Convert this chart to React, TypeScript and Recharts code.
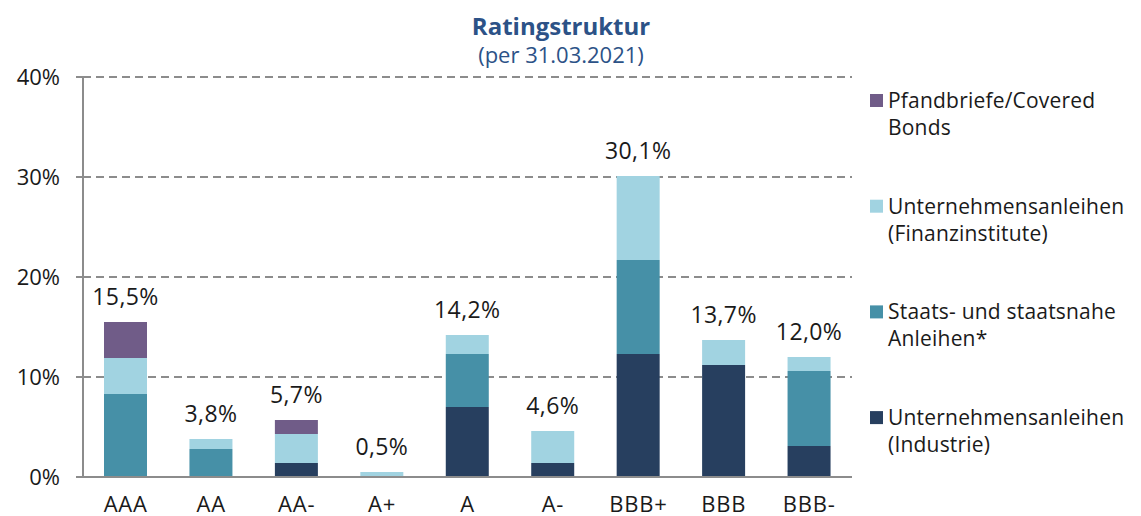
import { BarChart, Bar, XAxis, YAxis, CartesianGrid, LabelList } from "recharts";

const RATINGS = ["AAA", "AA", "AA-", "A+", "A", "A-", "BBB+", "BBB", "BBB-"];
// values in percent
const INDUSTRIE = [0, 0, 1.4, 0, 7.0, 1.4, 12.3, 11.2, 3.1];
const STAATS = [8.3, 2.8, 0, 0, 5.3, 0, 9.4, 0, 7.5];
const FINANZ = [3.6, 1.0, 2.9, 0.5, 1.9, 3.2, 8.4, 2.5, 1.4];
const PFAND = [3.6, 0, 1.4, 0, 0, 0, 0, 0, 0];
const TOTAL_LABELS = ["15,5%", "3,8%", "5,7%", "0,5%", "14,2%", "4,6%", "30,1%", "13,7%", "12,0%"];
const Y_TICKS = [0, 10, 20, 30, 40];
const EDGE_TICKS = [0, 1, 2, 3, 4, 5, 6, 7, 8, 9];

const SERIES = [
  { key: "industrie", values: INDUSTRIE, name: ["Unternehmensanleihen", "(Industrie)"], color: "#273f5f" },
  { key: "staats", values: STAATS, name: ["Staats- und staatsnahe", "Anleihen*"], color: "#4690a7" },
  { key: "finanz", values: FINANZ, name: ["Unternehmensanleihen", "(Finanzinstitute)"], color: "#a1d3e1" },
  { key: "pfand", values: PFAND, name: ["Pfandbriefe/Covered", "Bonds"], color: "#705c88" },
];

const data = RATINGS.map((r, i) => ({
  rating: r,
  industrie: INDUSTRIE[i],
  staats: STAATS[i],
  finanz: FINANZ[i],
  pfand: PFAND[i],
}));

// which series sits on top of each stack
const topSeries = RATINGS.map((_, i) => {
  let top = 0;
  SERIES.forEach((s, k) => {
    if (s.values[i] > 0) top = k;
  });
  return top;
});

const FONT = "'Open Sans', sans-serif";
const GRAY = "#8c8c8c";
const TEXT = "#1a1a1a";
const TITLE = "#2c5287";

const makeTotalLabel = (seriesIdx: number) => (props: any) => {
  const { x, y, width, value } = props;
  const idx = RATINGS.indexOf(value);
  if (idx < 0 || topSeries[idx] !== seriesIdx) return null;
  const label = TOTAL_LABELS[idx];
  const cx = x + width / 2;
  const w = label.length * 13 + 2;
  return (
    <g>
      <rect x={cx - w / 2} y={y - 38} width={w} height={27} fill="#fff" />
      <text
        x={cx}
        y={y - 17}
        textAnchor="middle"
        fontSize={23}
        letterSpacing={0.4}
        fontFamily={FONT}
        fill={TEXT}
      >
        {label}
      </text>
    </g>
  );
};

export default function App() {
  // legend from top to bottom is reverse of stack order
  const legend = [...SERIES].reverse();
  return (
    <div style={{ position: "absolute", left: 0, top: 0, width: 1141, height: 516, background: "#fff" }}>
      <BarChart
        width={1141}
        height={516}
        data={data}
        margin={{ top: 77, right: 289, bottom: 0, left: 0 }}
      >
        <CartesianGrid
          vertical={false}
          stroke={GRAY}
          strokeWidth={2}
          strokeDasharray="8 5"
        />
        <XAxis
          xAxisId="edges"
          type="number"
          domain={[0, 9]}
          ticks={EDGE_TICKS}
          tick={false}
          axisLine={false}
          tickLine={{ stroke: GRAY, strokeWidth: 2 }}
          tickSize={8}
          height={0}
        />
        <XAxis
          dataKey="rating"
          height={39}
          axisLine={{ stroke: GRAY, strokeWidth: 2 }}
          tickLine={false}
          tickSize={0}
          tickMargin={19}
          tick={{ fontSize: 22, fontFamily: FONT, fill: TEXT, letterSpacing: 0.8 }}
          interval={0}
        />
        <YAxis
          width={83}
          domain={[0, 40]}
          ticks={Y_TICKS}
          tickFormatter={(v) => `${v}%`}
          axisLine={{ stroke: GRAY, strokeWidth: 2 }}
          tickLine={{ stroke: GRAY, strokeWidth: 2 }}
          tickSize={7}
          tickMargin={16}
          tick={{ fontSize: 22, fontFamily: FONT, fill: TEXT }}
        />
        {SERIES.map((s, i) => (
          <Bar
            key={s.key}
            dataKey={s.key}
            stackId="a"
            fill={s.color}
            barSize={43}
            isAnimationActive={false}
          >
            <LabelList dataKey="rating" content={makeTotalLabel(i)} />
          </Bar>
        ))}
      </BarChart>

      <svg width={1141} height={516} style={{ position: "absolute", left: 0, top: 0, pointerEvents: "none" }}>
        <text x={561} y={35} textAnchor="middle" fontFamily={FONT} fontWeight={700} fontSize={24} fill={TITLE}>
          Ratingstruktur
        </text>
        <text x={561} y={63} textAnchor="middle" fontFamily={FONT} fontSize={22} fill={TITLE}>
          (per 31.03.2021)
        </text>
        {legend.map((s, i) => {
          const base = 108 + i * 105.7;
          return (
            <g key={s.key}>
              <rect x={870} y={base - 14} width={13} height={13} fill={s.color} />
              <text x={888} y={base} fontFamily={FONT} fontSize={21} letterSpacing={0.2} fill={TEXT}>
                {s.name[0]}
              </text>
              <text x={888} y={base + 27} fontFamily={FONT} fontSize={21} letterSpacing={0.2} fill={TEXT}>
                {s.name[1]}
              </text>
            </g>
          );
        })}
      </svg>
    </div>
  );
}
